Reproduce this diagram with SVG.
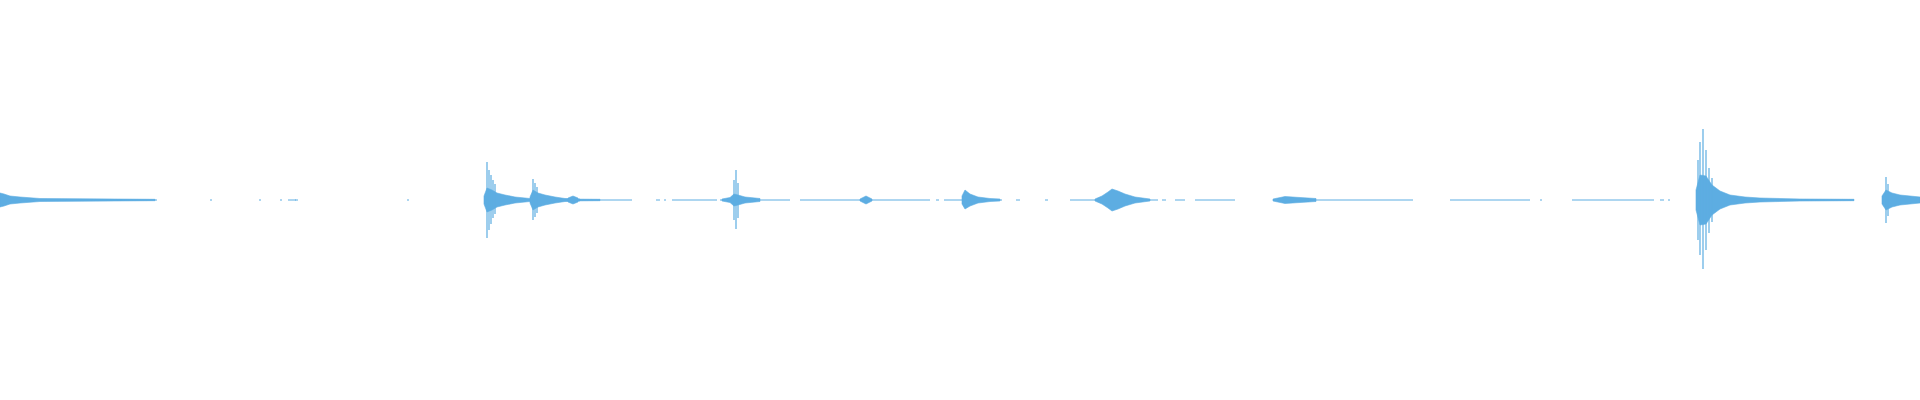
<svg xmlns="http://www.w3.org/2000/svg" width="1920" height="400" viewBox="0 0 1920 400">
<style>
.w{fill:#5dade2;stroke:#5dade2;stroke-width:0.6}
.s{stroke:#5dade2;stroke-width:1.2;fill:none}
.b{stroke:#5dade2;stroke-width:1;fill:none}
</style>
<rect width="1920" height="400" fill="#fff"/>
<g id="baseline" class="b">
<path d="M0 200H157M210 200h2M259 200h2M280 200h2M288 200h8M295 200h3M407 200h2M485 200H632M656 200h4M664 200h2M672 200h45M720 200h34M760 200h30M800 200h130M936 200h3M944 200h52M1000 200h2M1016 200h4M1045 200h3M1070 200h60M1136 200h22M1162 200h4M1175 200h10M1195 200h40M1278 200h135M1450 200h80M1540 200h2M1572 200h82M1660 200h4M1668 200h2M1696 200h158M1882 200h38"/>
</g>
<g id="bursts">
<polygon class="w" points="0,193 4,194 10,196 20,197 40,198.5 155,199.3 155,200.7 40,201.5 20,203 10,204 4,206 0,207"/>
<polygon class="w" points="484,196 487,188 492,190 497,193 505,195 515,197 530,198.5 560,199 600,199.3 600,200.7 560,201 530,201.5 515,203 505,205 497,207 492,210 487,212 484,204"/>
<path class="s" d="M487 162V238M489 170V230M491 175V224M493 180V218M495 184V214"/>
<polygon class="w" points="530,197 533,190 538,193 545,195 555,197 565,198.5 580,199 580,201 565,201.5 555,203 545,205 538,207 533,210 530,203"/>
<path class="s" d="M533 179V220M535 183V217M537 187V213"/>
<polygon class="w" points="568,198 573,196 578,198 578,202 573,204 568,202"/>
<polygon class="w" points="722,199 730,197.5 734,194 738,195 745,197 760,198.5 760,201.5 745,203 738,205 734,206 730,202.5 722,201"/>
<path class="s" d="M736 170V229M734 180V220M738 183V218"/>
<polygon class="w" points="860,199 866,196 872,199 872,201 866,204 860,201"/>
<polygon class="w" points="962,196 965,190 970,194 978,197 990,198.5 1000,199 1000,201 990,201.5 978,203 970,206 965,209 962,204"/>
<polygon class="w" points="1095,199 1102,196 1108,192 1112,189 1118,191 1125,194 1135,197 1150,199 1150,201 1135,203 1125,206 1118,209 1112,211 1108,208 1102,204 1095,201"/>
<polygon class="w" points="1273,199 1285,196.5 1300,197.5 1316,198.5 1316,201.5 1300,202.5 1285,203.5 1273,201"/>
<polygon class="w" points="1696,190 1700,175 1706,176 1712,185 1720,191 1730,195 1745,197 1760,198 1800,199 1854,199.3 1854,200.7 1800,201 1760,202 1745,203 1730,205 1720,209 1712,215 1706,224 1700,225 1696,210"/>
<path class="s" d="M1698 160V240M1700 142V255M1703 129V269M1706 150V250M1709 168V233M1712 178V222"/>
<polygon class="w" points="1882,196 1886,190 1892,193 1900,195 1910,196 1920,197 1920,203 1910,204 1900,205 1892,207 1886,210 1882,204"/>
<path class="s" d="M1886 177V223M1888 184V216"/>
</g>
</svg>
